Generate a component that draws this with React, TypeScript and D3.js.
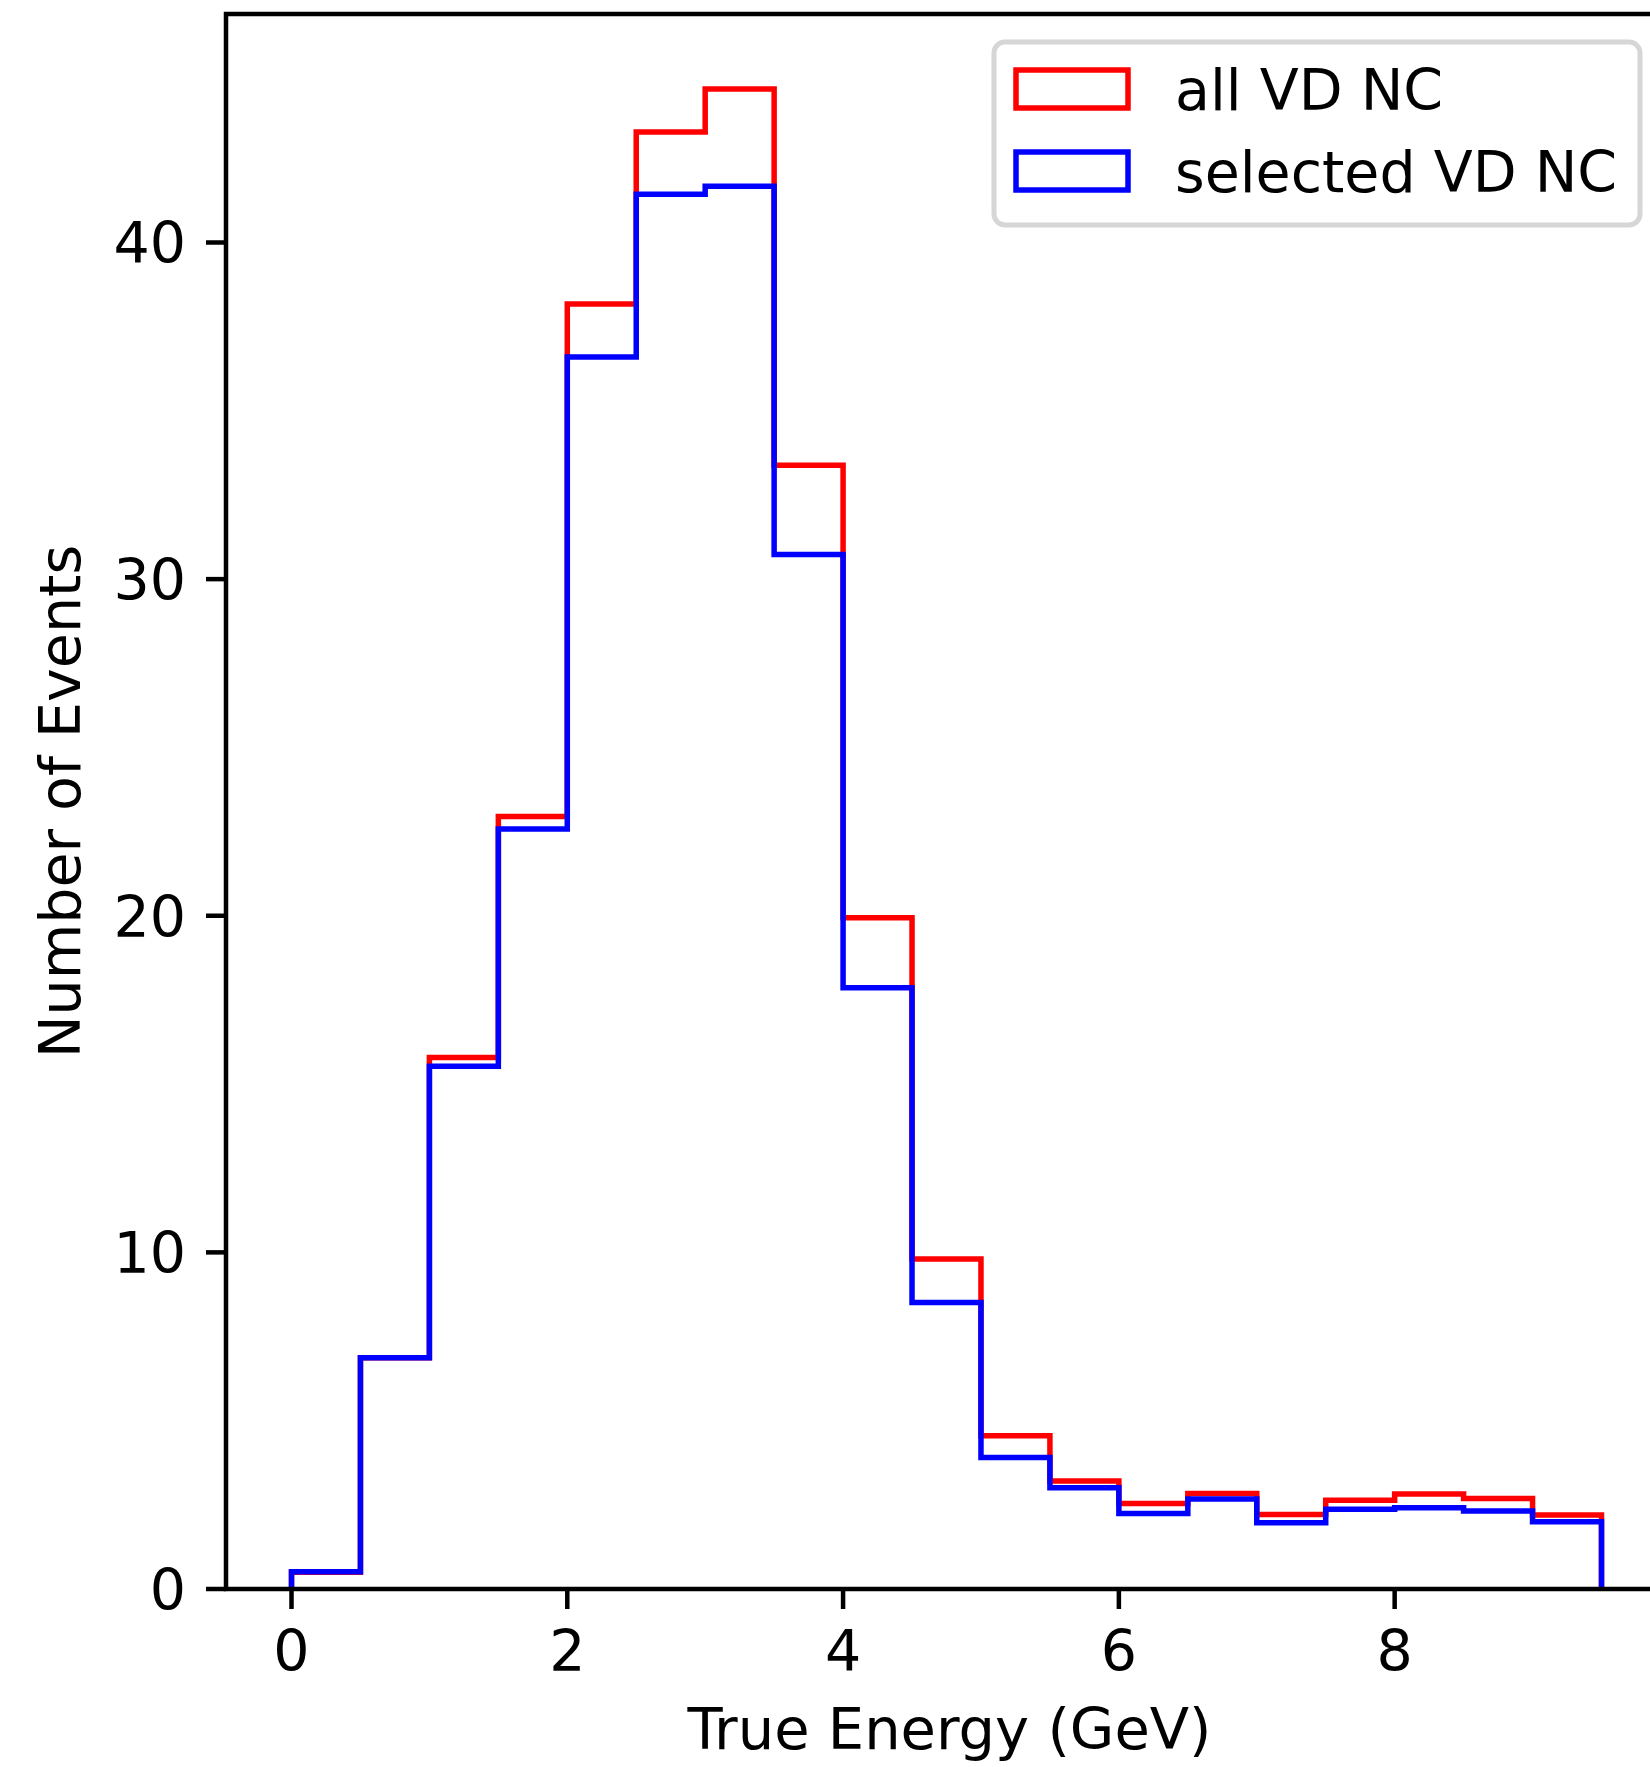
import React from "react";
import * as d3 from "d3";

// Histogram bin edges (GeV) and per-bin event counts
const binEdges = [0, 0.5, 1, 1.5, 2, 2.5, 3, 3.5, 4, 4.5, 5, 5.5, 6, 6.5, 7, 7.5, 8, 8.5, 9, 9.5];
const allVDNC = [0.5, 6.87, 15.79, 22.95, 38.17, 43.28, 44.56, 33.38, 19.94, 9.8, 4.55, 3.21, 2.54, 2.84, 2.21, 2.64, 2.82, 2.69, 2.2];
const selectedVDNC = [0.51, 6.87, 15.53, 22.58, 36.6, 41.43, 41.67, 30.73, 17.86, 8.51, 3.91, 3.01, 2.24, 2.67, 1.97, 2.37, 2.41, 2.32, 2.0];
const xTicks = [0, 2, 4, 6, 8];
const yTicks = [0, 10, 20, 30, 40];
const seriesNames = ["all VD NC", "selected VD NC"];
const seriesColors = ["#ff0000", "#0000ff"];

const W = 1650;
const H = 1767;
const FONT = "DejaVu Sans, sans-serif";
const FS = 57;

export default function App() {
  const left = 226;
  const right = 1667;
  const top = 14;
  const bottom = 1589;

  const x0 = binEdges[0];
  const x1 = binEdges[binEdges.length - 1];
  const xm = (x1 - x0) * 0.05;
  const x = d3.scaleLinear().domain([x0 - xm, x1 + xm]).range([left, right]);
  const yMax = (d3.max(allVDNC) as number) * 1.05;
  const y = d3.scaleLinear().domain([0, yMax]).range([bottom, top]);

  const stepPoints = (vals: number[]) => {
    const pts: [number, number][] = [[binEdges[0], 0]];
    vals.forEach((v, i) => {
      pts.push([binEdges[i], v]);
      pts.push([binEdges[i + 1], v]);
    });
    pts.push([binEdges[binEdges.length - 1], 0]);
    return pts;
  };
  const line = d3
    .line<[number, number]>()
    .x((d) => x(d[0]))
    .y((d) => y(d[1]));

  const series = [allVDNC, selectedVDNC];
  const tickLen = 20;
  const spineW = 4.5;

  // legend geometry
  const lgX = 994;
  const lgY = 42;
  const lgW = 646;
  const lgH = 183;
  const rowCenters = [89, 171];

  return (
    <svg
      width={W}
      height={H}
      viewBox={`0 0 ${W} ${H}`}
      style={{ position: "absolute", left: 0, top: 0, display: "block", background: "#fff" }}
      fontFamily={FONT}
    >
      <rect x={0} y={0} width={W} height={H} fill="#fff" />

      {/* histogram steps */}
      {series.map((vals, i) => (
        <path
          key={i}
          d={line(stepPoints(vals)) || ""}
          fill="none"
          stroke={seriesColors[i]}
          strokeWidth={5.5}
          strokeLinejoin="miter"
        />
      ))}

      {/* spines */}
      <rect
        x={left}
        y={top}
        width={right - left}
        height={bottom - top}
        fill="none"
        stroke="#000"
        strokeWidth={spineW}
      />

      {/* x ticks */}
      {xTicks.map((t) => (
        <g key={t}>
          <line x1={x(t)} x2={x(t)} y1={bottom} y2={bottom + tickLen} stroke="#000" strokeWidth={spineW} />
          <text x={x(t)} y={1671} textAnchor="middle" fontSize={FS} fill="#000">
            {t}
          </text>
        </g>
      ))}

      {/* y ticks */}
      {yTicks.map((t) => (
        <g key={t}>
          <line x1={left - tickLen} x2={left} y1={y(t)} y2={y(t)} stroke="#000" strokeWidth={spineW} />
          <text x={left - tickLen - 20} y={y(t) + 20.8} textAnchor="end" fontSize={FS} fill="#000">
            {t}
          </text>
        </g>
      ))}

      {/* axis labels */}
      <text x={(left + right) / 2 + 3} y={1749} textAnchor="middle" fontSize={57.5} fill="#000">
        True Energy (GeV)
      </text>
      <text
        transform={`translate(80, ${(top + bottom) / 2}) rotate(-90)`}
        textAnchor="middle"
        fontSize={FS}
        fill="#000"
      >
        Number of Events
      </text>

      {/* legend */}
      <rect
        x={lgX}
        y={lgY}
        width={lgW}
        height={lgH}
        rx={11}
        ry={11}
        fill="#fff"
        fillOpacity={0.8}
        stroke="#d6d6d6"
        strokeWidth={5}
      />
      {seriesNames.map((name, i) => (
        <g key={name}>
          <rect
            x={1016}
            y={rowCenters[i] - 19}
            width={112}
            height={38}
            fill="none"
            stroke={seriesColors[i]}
            strokeWidth={5.5}
          />
          <text x={1175} y={rowCenters[i] + 20.8} fontSize={FS} fill="#000">
            {name}
          </text>
        </g>
      ))}
    </svg>
  );
}
